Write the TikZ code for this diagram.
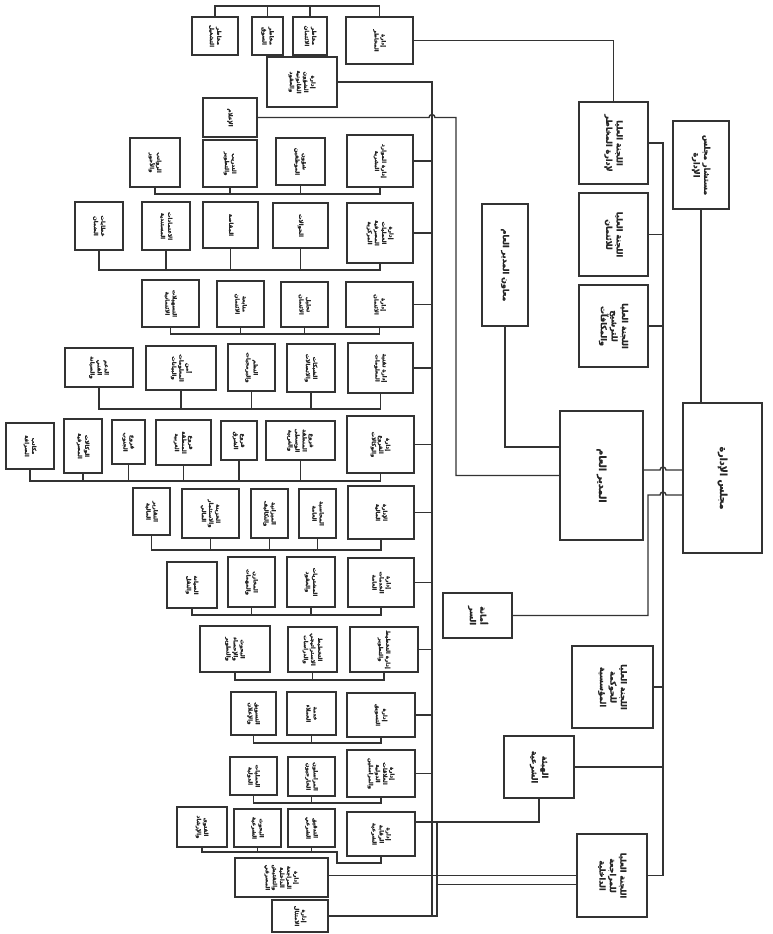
\documentclass[tikz,border=0pt]{standalone}
\usepackage{fontspec}
\usepackage{array}
\usetikzlibrary{calc}
\newfontfamily\arabicfont[Script=Arabic,FakeBold=1.2]{DejaVu Sans}
\TeXXeTstate=1
\newcommand{\tx}[2][5.5]{\rotatebox{-90}{\arabicfont\fontsize{#1}{#1}\selectfont\bfseries\renewcommand{\arraystretch}{1.3}\begin{tabular}{@{}>{\beginR}c<{\endR}@{}}#2\end{tabular}}}
\newcommand{\bx}[7][5.5]{\node[box,minimum width={(#4-#2)*1pt},minimum height={(#5-#3)*1pt}] (#6) at ({(#2+#4)/2},{(#3+#5)/2}) {\tx[#1]{#7}};}
\begin{document}
\begin{tikzpicture}[x=1pt,y=-1pt,
  box/.style={draw=black!80,line width=1.4pt,fill=white,rectangle,inner sep=0pt,outer sep=0pt,text=black!85},
  ln/.style={draw=black!80,line width=1.4pt}]
\useasboundingbox (0,0) rectangle (772,934);
\fill[white] (0,0) rectangle (772,934);

% ---------- right side ----------
\bx[8]{673}{121}{729}{209}{adv}{\beginR مستشار مجلس\endR\\الإدارة}
\bx[8]{579}{102}{648}{184}{rc}{\beginR اللجنة العليا\endR\\\beginR لإدارة المخاطر\endR}
\bx[8]{579}{193}{648}{276}{cr}{\beginR اللجنة العليا\endR\\للائتمان}
\bx[8]{579}{285}{648}{367}{nom}{\beginR اللجنة العليا\endR\\للترشيح\\والمكافآت}
\bx[8]{482}{204}{528}{326}{mu}{\beginR معاون المدير العام\endR}
\bx[9.5]{560}{411}{643}{540}{GM}{\beginR المدير العام\endR}
\bx[9.5]{683}{403}{762}{553}{board}{\beginR مجلس الإدارة\endR}
\bx[8]{443}{593}{512}{638}{sec}{أمانة\\السر}
\bx[8]{572}{646}{653}{728}{gov}{\beginR اللجنة العليا\endR\\للحوكمة\\المؤسسية}
\bx[8]{504}{736}{574}{798}{sh}{الهيئة\\الشرعية}
\bx[8]{577}{834}{647}{917}{aud}{\beginR اللجنة العليا\endR\\للمراجعة\\الداخلية}

% ---------- departments ----------
\bx{346}{17}{413}{64}{Am}{إدارة\\المخاطر}
\bx{293}{17}{327}{55}{A1}{مخاطر\\الائتمان}
\bx{252}{17}{283}{55}{A2}{مخاطر\\السوق}
\bx{192}{17}{238}{55}{A3}{مخاطر\\التشغيل}

\bx{267}{57}{337}{107}{B}{إدارة\\الشؤون\\القانونية\\والعقود}
\bx{203}{98}{257}{137}{C}{الإعلام}

\bx{347}{135}{413}{187}{Dm}{\beginR إدارة الموارد\endR\\البشرية}
\bx{276}{138}{325}{185}{D1}{شؤون\\الموظفين}
\bx{203}{140}{257}{187}{D2}{التدريب\\والتطوير}
\bx{130}{138}{180}{187}{D3}{الرواتب\\والأجور}

\bx{347}{203}{413}{263}{Em}{إدارة\\العمليات\\المصرفية\\المركزية}
\bx{273}{203}{328}{248}{E1}{الحوالات}
\bx{203}{202}{258}{248}{E2}{المقاصة}
\bx{142}{202}{190}{250}{E3}{الاعتمادات\\المستندية}
\bx{75}{202}{123}{250}{E4}{خطابات\\الضمان}

\bx{346}{282}{413}{327}{Fm}{إدارة\\الائتمان}
\bx{281}{282}{328}{327}{F1}{تحليل\\الائتمان}
\bx{217}{281}{264}{327}{F2}{متابعة\\الائتمان}
\bx{142}{280}{199}{327}{F3}{التسهيلات\\الائتمانية}

\bx{348}{343}{413}{393}{Gm}{\beginR إدارة تقنية\endR\\المعلومات}
\bx{287}{344}{335}{392}{G1}{الشبكات\\والاتصالات}
\bx{228}{344}{275}{391}{G2}{النظم\\والبرمجيات}
\bx{146}{346}{216}{390}{G3}{أمن\\المعلومات\\والبيانات}
\bx{65}{348}{133}{387}{G4}{الدعم\\الفني\\والصيانة}

\bx{347}{416}{414}{473}{Hm}{إدارة\\الفروع\\والوكالات}
\bx{266}{421}{335}{460}{H1}{فروع\\المنطقة\\الوسطى\\والغربية}
\bx{221}{421}{257}{460}{H2}{فروع\\الشرق}
\bx{156}{420}{211}{465}{H3}{فروع\\المنطقة\\الغربية}
\bx{112}{420}{145}{464}{H4}{فروع\\الجنوب}
\bx{64}{419}{102}{473}{H5}{الوكالات\\المصرفية}
\bx{6}{423}{54}{469}{H6}{مكاتب\\الصرافة}

\bx{348}{486}{414}{539}{Im}{الإدارة\\المالية}
\bx{299}{489}{336}{538}{I1}{المحاسبة\\العامة}
\bx{251}{489}{288}{538}{I2}{الميزانية\\والتكاليف}
\bx{182}{489}{239}{538}{I3}{الخزينة\\والاستثمار\\المالي}
\bx{133}{488}{170}{535}{I4}{التقارير\\المالية}

\bx{348}{558}{414}{607}{Jm}{إدارة\\الخدمات\\العامة}
\bx{287}{557}{335}{607}{J1}{المشتريات\\والعقود}
\bx{228}{557}{275}{607}{J2}{المخازن\\والمهمات}
\bx{167}{562}{217}{608}{J3}{الصيانة\\والنقل}

\bx{350}{627}{418}{672}{Km}{\beginR إدارة التخطيط\endR\\والتطوير}
\bx{288}{627}{337}{672}{K1}{التخطيط\\الاستراتيجي\\والدراسات}
\bx{200}{626}{270}{672}{K2}{البحوث\\والإحصاء\\والتطوير}

\bx{347}{693}{415}{737}{Lm}{إدارة\\التسويق}
\bx{287}{692}{336}{735}{L1}{خدمة\\العملاء}
\bx{231}{692}{276}{735}{L2}{التسويق\\والإعلان}

\bx{347}{750}{415}{797}{Mm}{إدارة\\العلاقات\\الدولية\\والمراسلين}
\bx{288}{757}{335}{796}{M1}{المراسلون\\الخارجيون}
\bx{230}{757}{277}{795}{M2}{العمليات\\الدولية}

\bx{347}{812}{415}{856}{Nm}{إدارة\\الرقابة\\الشرعية}
\bx{288}{809}{335}{847}{N1}{التدقيق\\الشرعي}
\bx{234}{809}{281}{847}{N2}{البحوث\\الشرعية}
\bx{177}{807}{227}{847}{N3}{الفتوى\\والإرشاد}

\bx{235}{858}{328}{897}{O1}{إدارة\\المراجعة\\الداخلية\\والتفتيش\\المصرفي}
\bx{272}{900}{328}{932}{O2}{إدارة\\الامتثال}

% ---------- helper coordinates ----------
\coordinate (sp) at (432,0);
\coordinate (vx) at (663,0);
\coordinate (vg) at (456,0);
\coordinate (x2) at (437,0);
\coordinate (sx) at (648,0);
\coordinate (hs) at (0,822);
\coordinate (muy) at (0,447);
\coordinate (h1) at (663,470);
\coordinate (h2) at (663,495);
\coordinate (busA) at (0,6);
\coordinate (busD) at (0,194);
\coordinate (busE) at (0,270);
\coordinate (busF) at (0,334);
\coordinate (busG) at (0,409);
\coordinate (busH) at (0,481);
\coordinate (busI) at (0,550);
\coordinate (busJ) at (0,615);
\coordinate (busK) at (0,680);
\coordinate (busL) at (0,743);
\coordinate (busM) at (0,803);
\coordinate (nj1) at (337,852);
\coordinate (nj2) at (0,863);

% ---------- right side connectors ----------
\draw[ln] (adv.south) -- (adv.south |- board.north);
\draw[ln] (rc.east) -| (vx |- aud.east) -- (aud.east);
\foreach \n in {cr,nom,gov,sh} \draw[ln] (\n.east) -- (\n.east -| vx);
\draw[ln] (GM.east |- h1) -- ($(h1)+(-3,0)$) arc[start angle=180,end angle=0,radius=3pt] -- (board.west |- h1);
\draw[ln] (sec.east) -| (sx |- h2) -- ($(h2)+(-3,0)$) arc[start angle=180,end angle=0,radius=3pt] -- (board.west |- h2);
\draw[ln] (mu.south) |- (GM.west |- muy);
\draw[ln] (rc.north) |- (Am.east);

% ---------- spine ----------
\draw[ln] (B.east) -| (sp |- O2.east);
\foreach \n in {Dm,Em,Fm,Gm,Hm,Im,Jm,Km,Lm,Mm} \draw[ln] (\n.east) -- (\n.east -| sp);
\draw[ln] (C.east) -- ($(C.east -| sp)+(-3,0)$) arc[start angle=180,end angle=0,radius=3pt] -- (C.east -| vg) |- (GM.west);

% ---------- bottom ----------
\draw[ln] (sh.south) |- (Nm.east |- hs);
\draw[ln] (O2.east) -| (x2 |- hs);
\draw[ln] (aud.west) -- (aud.west -| O1.east);
\draw[ln] ($(aud.west)+(0,9)$) -- ($(aud.west -| x2)+(0,9)$);

% ---------- row buses ----------
\draw[ln] (A3.north) |- (Am.north |- busA) -- (Am.north);
\foreach \s in {A1,A2} \draw[ln] (\s.north) -- (\s.north |- busA);

\draw[ln] (D3.south) |- (Dm.south |- busD) -- (Dm.south);
\foreach \s in {D1,D2} \draw[ln] (\s.south) -- (\s.south |- busD);

\draw[ln] (E4.south) |- (Em.south |- busE) -- (Em.south);
\foreach \s in {E1,E2,E3} \draw[ln] (\s.south) -- (\s.south |- busE);

\draw[ln] (F3.south) |- (Fm.south |- busF) -- (Fm.south);
\foreach \s in {F1,F2} \draw[ln] (\s.south) -- (\s.south |- busF);

\draw[ln] (G4.south) |- (Gm.south |- busG) -- (Gm.south);
\foreach \s in {G1,G2,G3} \draw[ln] (\s.south) -- (\s.south |- busG);

\draw[ln] (H6.south) |- (Hm.south |- busH) -- (Hm.south);
\foreach \s in {H1,H2,H3,H4,H5} \draw[ln] (\s.south) -- (\s.south |- busH);

\draw[ln] (I4.south) |- (Im.south |- busI) -- (Im.south);
\foreach \s in {I1,I2,I3} \draw[ln] (\s.south) -- (\s.south |- busI);

\draw[ln] (J3.south) |- (Jm.south |- busJ) -- (Jm.south);
\foreach \s in {J1,J2} \draw[ln] (\s.south) -- (\s.south |- busJ);

\draw[ln] (K2.south) |- (Km.south |- busK) -- (Km.south);
\draw[ln] (K1.south) -- (K1.south |- busK);

\draw[ln] (L2.south) |- (Lm.south |- busL) -- (Lm.south);
\draw[ln] (L1.south) -- (L1.south |- busL);

\draw[ln] (M2.south) |- (Mm.south |- busM) -- (Mm.south);
\draw[ln] (M1.south) -- (M1.south |- busM);

\draw[ln] (N3.south) |- (nj1) |- (Nm.south |- nj2) -- (Nm.south);
\foreach \s in {N1,N2} \draw[ln] (\s.south) -- (\s.south |- nj1);
\end{tikzpicture}
\end{document}
